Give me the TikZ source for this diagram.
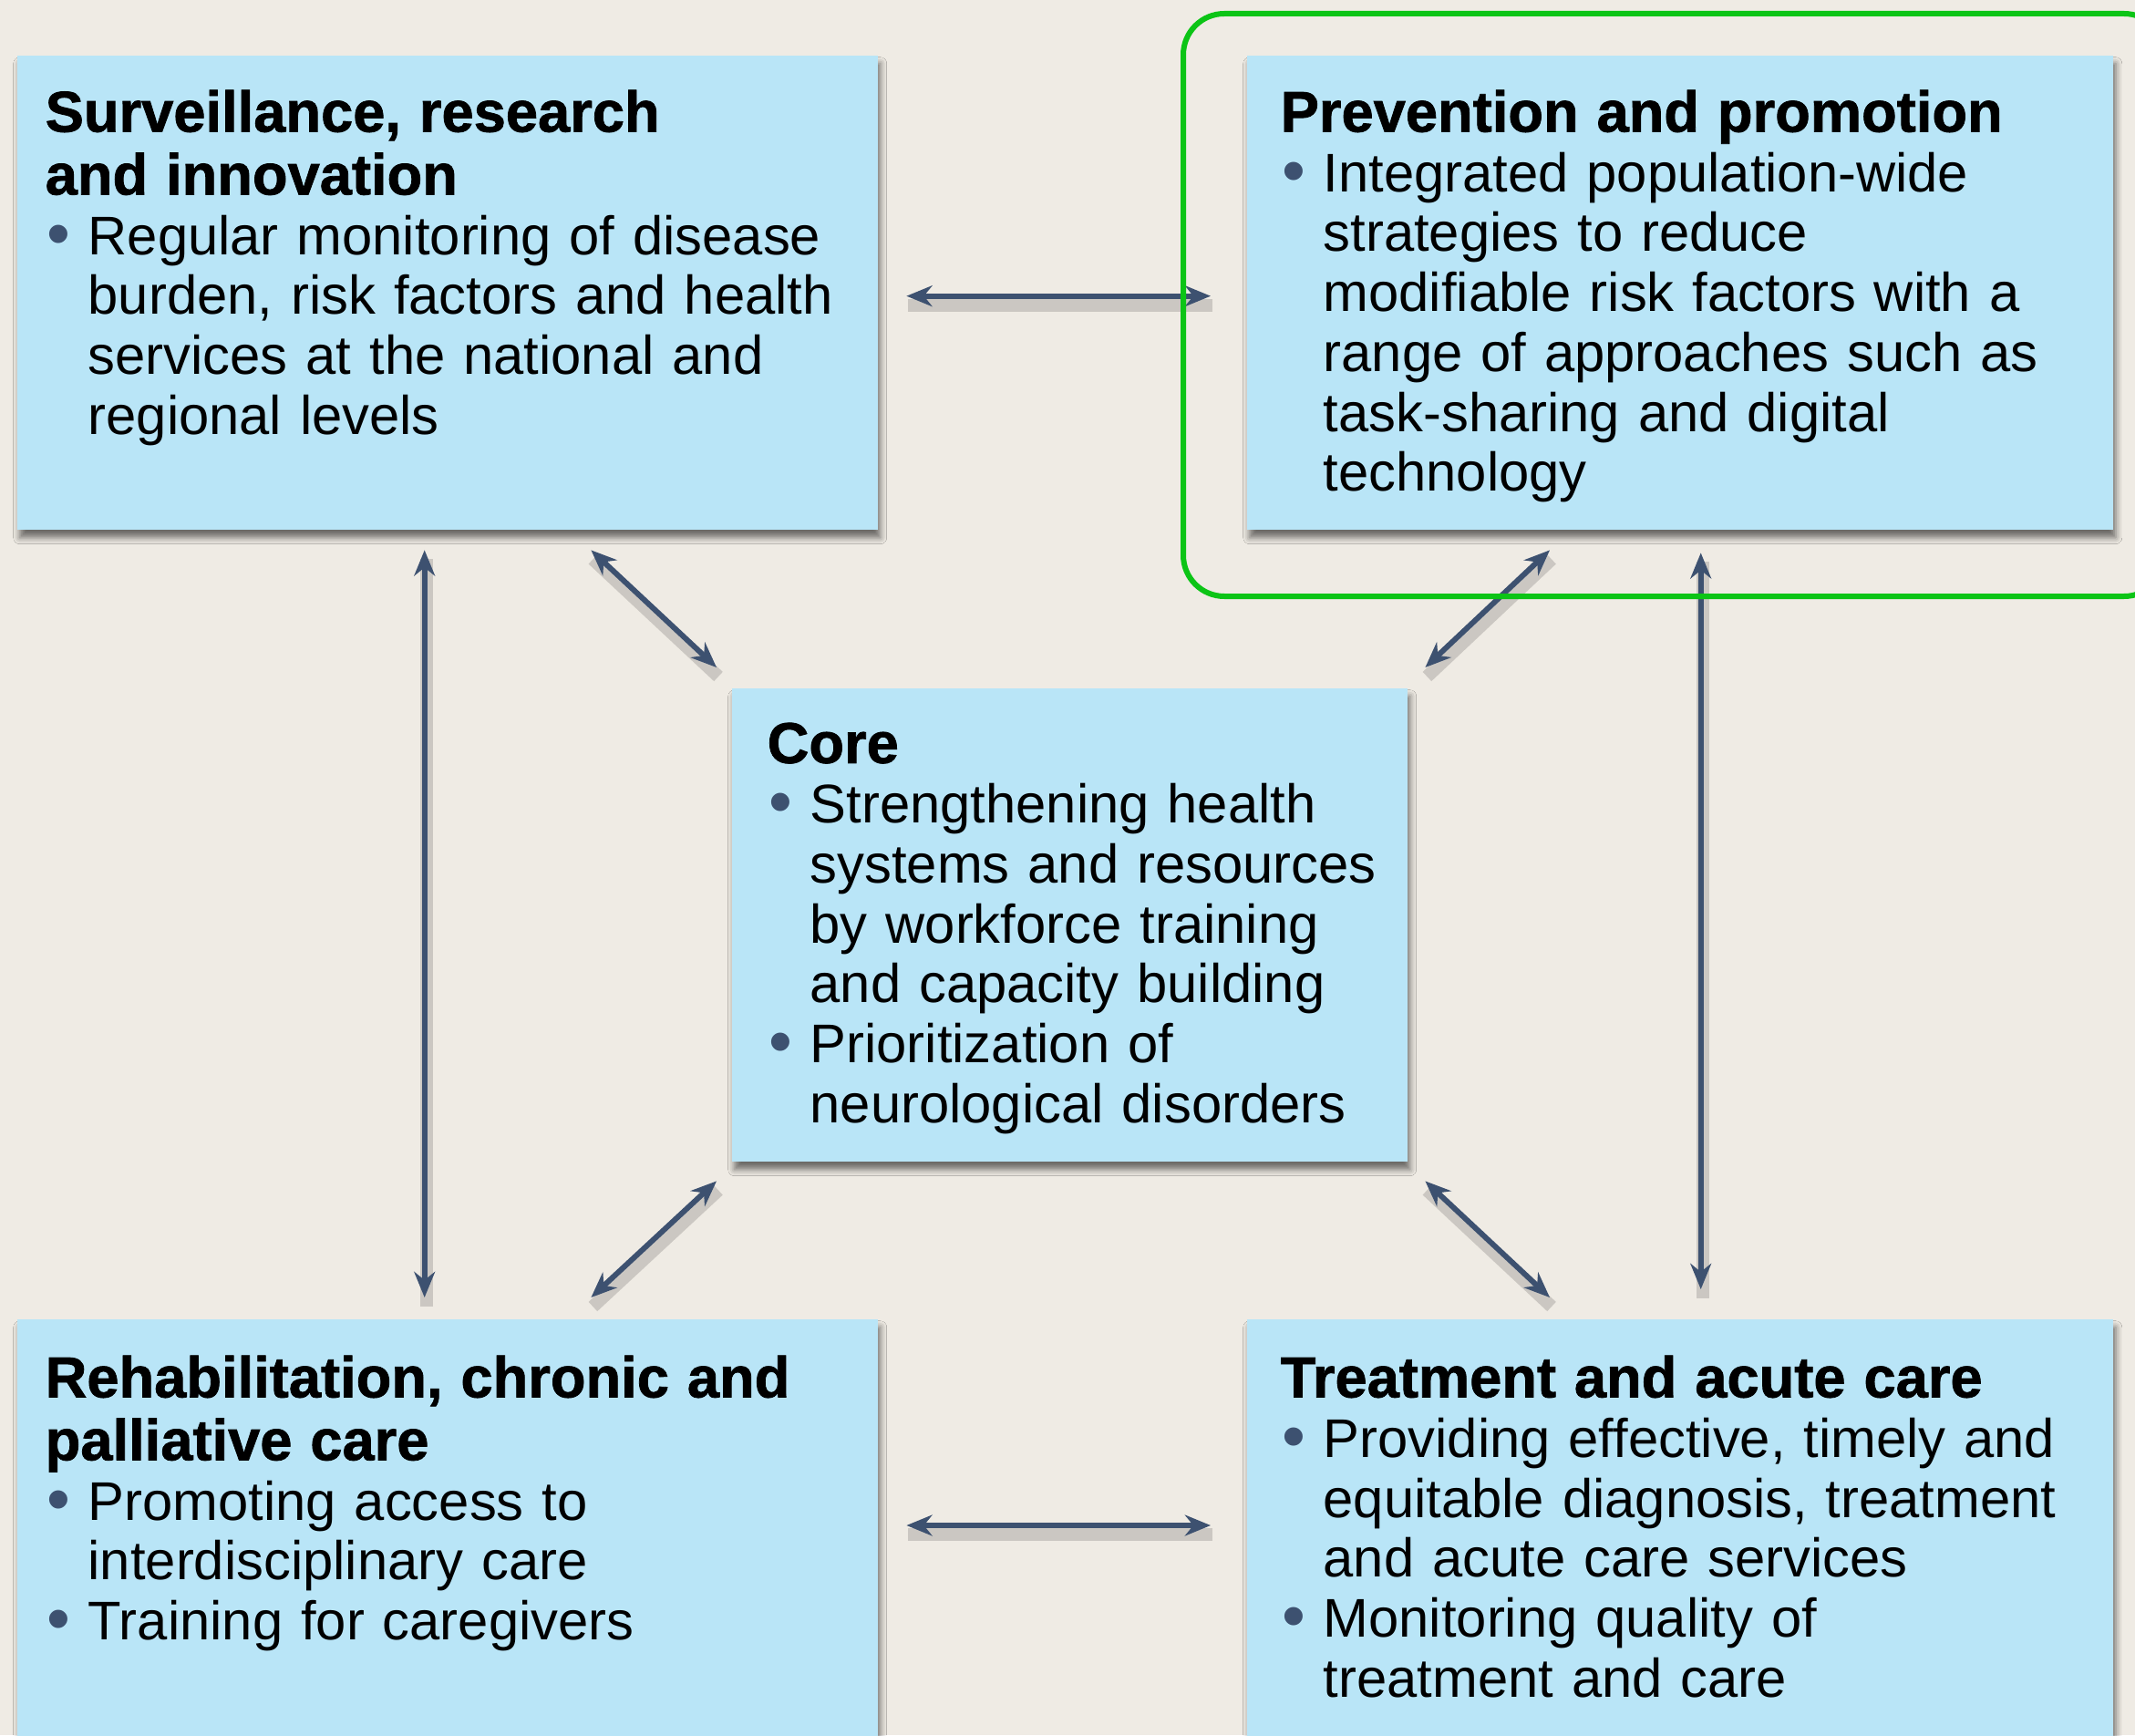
\documentclass[tikz,border=0pt]{standalone}
\usepackage{fontspec}
\setmainfont{Liberation Sans}
\newfontfamily\headfont{Liberation Sans Bold}[FakeBold=1.2]
\usepackage{tikz}
\usetikzlibrary{calc}
\usetikzlibrary{arrows.meta}
\usetikzlibrary{shadows.blur}

\definecolor{paper}{RGB}{239,235,228}
\definecolor{boxblue}{RGB}{185,229,247}
\definecolor{linkblue}{RGB}{61,81,112}
\definecolor{framegreen}{RGB}{12,196,22}

\newcommand{\boxhead}[1]{{\headfont\fontsize{18}{19.6}\selectfont #1\par}}
\newcommand{\bul}{\par\noindent\hangindent=0.47cm\hangafter=1\makebox[0.47cm][l]{\hspace{0.02cm}\raisebox{-0.6pt}{\fontsize{21}{21}\selectfont\textcolor{linkblue}{\textbullet}}}}

\begin{document}
\begin{tikzpicture}[
    box/.style={anchor=north west,fill=boxblue,inner sep=0,
      blur shadow={shadow xshift=0.03cm,shadow yshift=-0.09cm,shadow blur radius=0.07cm,shadow opacity=55}},
    txt/.style={anchor=north west,inner sep=0,text width=10cm,align=left,
      font=\fontsize{17}{18.7}\selectfont},
    link/.style={{Stealth[length=8pt,width=6.5pt]}-{Stealth[length=8pt,width=6.5pt]},
      line width=1.7pt,linkblue,
      preaction={draw=black,-,opacity=0.15,line width=4pt,transform canvas={shift={(0.02,-0.1)}}}}]
    \useasboundingbox (0,0) rectangle (23.42,-19.03);
    \clip (0,0) rectangle (23.42,-19.03);
    \fill[paper] (0,0) rectangle (23.42,-19.03);

    \node[box,minimum width=9.44cm,minimum height=5.20cm] (surv) at (0.18,-0.60) {};
    \node[box,minimum width=9.50cm,minimum height=5.20cm] (prev) at (13.67,-0.60) {};
    \node[box,minimum width=7.41cm,minimum height=5.19cm] (core) at (8.02,-7.54) {};
    \node[box,minimum width=9.44cm,minimum height=5.20cm] (rehab) at (0.18,-14.46) {};
    \node[box,minimum width=9.50cm,minimum height=5.20cm] (treat) at (13.67,-14.46) {};

    \node[txt] (survtext) at ([shift={(0.31,-0.38)}]surv.north west) {%
      \boxhead{Surveillance, research\\and innovation}
      \bul Regular monitoring of disease\newline burden, risk factors and health\newline services at the national and\newline regional levels\par};
    \node[txt] (prevtext) at ([shift={(0.37,-0.38)}]prev.north west) {%
      \boxhead{Prevention and promotion}
      \bul Integrated population-wide\newline strategies to reduce\newline modifiable risk factors with a\newline range of approaches such as\newline task-sharing and digital\newline technology\par};
    \node[txt] (coretext) at ([shift={(0.39,-0.38)}]core.north west) {%
      \boxhead{Core}
      \bul Strengthening health\newline systems and resources\newline by workforce training\newline and capacity building
      \bul Prioritization of\newline neurological disorders\par};
    \node[txt] (rehabtext) at ([shift={(0.31,-0.40)}]rehab.north west) {%
      \boxhead{Rehabilitation, chronic and\\palliative care}
      \bul Promoting access to\newline interdisciplinary care
      \bul Training for caregivers\par};
    \node[txt] (treattext) at ([shift={(0.37,-0.40)}]treat.north west) {%
      \boxhead{Treatment and acute care}
      \bul Providing effective, timely and\newline equitable diagnosis, treatment\newline and acute care services
      \bul Monitoring quality of\newline treatment and care\par};

    \draw[link] ([shift={(0.31,-0.04)}]surv.east) -- ([shift={(-0.39,-0.04)}]prev.west);
    \draw[link] ([shift={(0.31,-2.27)}]rehab.north east) -- ([shift={(-0.39,-2.27)}]treat.north west);
    \draw[link] ([shift={(-3.15,-0.22)}]surv.south east) -- ([shift={(-0.16,0.22)}]core.north west);
    \draw[link] ([shift={(0.19,0.22)}]core.north east) -- ([shift={(3.33,-0.22)}]prev.south west);
    \draw[link] ([shift={(-0.16,-0.21)}]core.south west) -- ([shift={(-3.15,0.23)}]rehab.north east);
    \draw[link] ([shift={(0.19,-0.21)}]core.south east) -- ([shift={(3.33,0.23)}]treat.north west);
    \draw[link] ([shift={(-0.25,-0.22)}]surv.south) -- ([shift={(-0.25,0.23)}]rehab.north);
    \draw[link] ([shift={(0.23,-0.25)}]prev.south) -- ([shift={(0.23,0.32)}]treat.north);

    \draw[framegreen,line width=0.06cm,rounded corners=0.45cm] (12.98,-0.15) rectangle (23.75,-6.54);
  \end{tikzpicture}
\end{document}
